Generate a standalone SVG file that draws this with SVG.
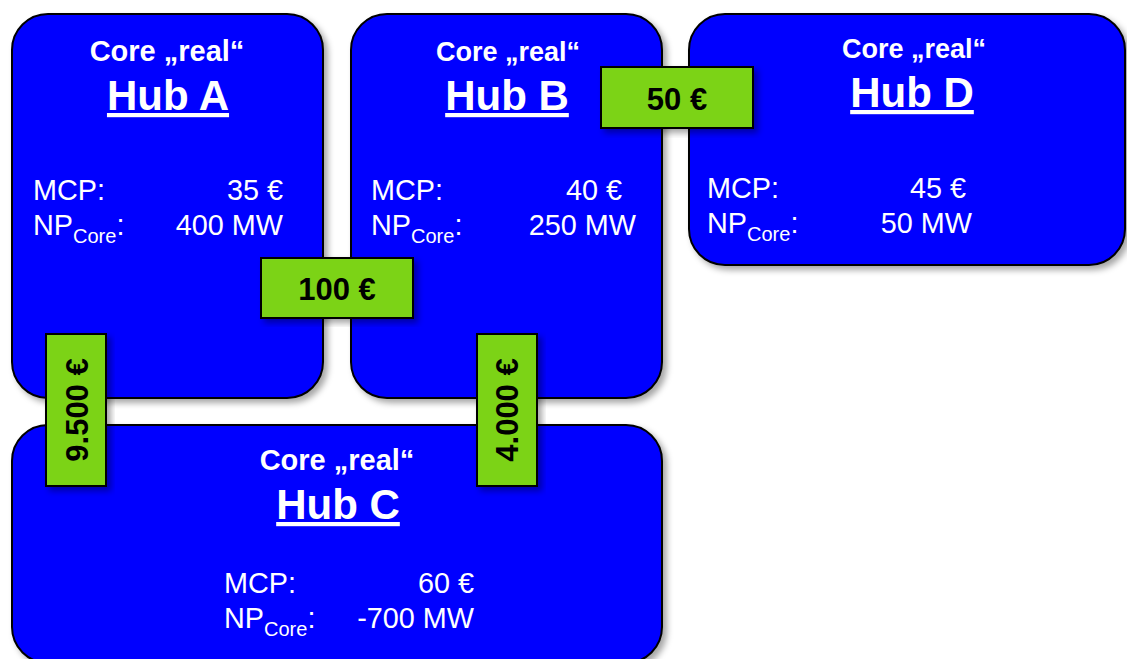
<svg xmlns="http://www.w3.org/2000/svg" width="1127" height="659" viewBox="0 0 1127 659">
<defs>
<filter id="sh" x="-10%" y="-10%" width="125%" height="125%">
<feDropShadow dx="4" dy="4" stdDeviation="3" flood-color="#000" flood-opacity="0.35"/>
</filter>
<style>
.hub{fill:#0000FF;stroke:#000;stroke-width:2;filter:url(#sh)}
.lbl{fill:#7CD313;stroke:#000;stroke-width:2;filter:url(#sh)}
.t{font-family:"Liberation Sans",Arial,sans-serif;fill:#fff}
.core{font-weight:bold;text-anchor:middle}
.title{font-weight:bold;font-size:42px;text-anchor:middle;text-decoration:underline}
.body{font-size:28.8px}
.r{text-anchor:end}
.sub{font-size:20px}
.lt{font-family:"Liberation Sans",Arial,sans-serif;font-weight:bold;font-size:31px;fill:#000;text-anchor:middle}
</style>
</defs>
<g id="hubA">
<rect class="hub" x="12" y="14" width="311" height="384" rx="36"/>
<text class="t core" x="167" y="61" font-size="29">Core „real“</text>
<text class="t title" x="168" y="110">Hub A</text>
<text class="t body" x="33" y="200">MCP:</text>
<text class="t body r" x="283" y="200">35 €</text>
<text class="t body" x="33" y="235">NP<tspan class="sub" dy="8">Core</tspan><tspan dy="-8">:</tspan></text>
<text class="t body r" x="283" y="235">400 MW</text>
</g>
<g id="hubB">
<rect class="hub" x="351" y="14" width="311" height="384" rx="36"/>
<text class="t core" x="508" y="61" font-size="27">Core „real“</text>
<text class="t title" x="507" y="110">Hub B</text>
<text class="t body" x="371" y="200">MCP:</text>
<text class="t body r" x="622" y="200">40 €</text>
<text class="t body" x="371" y="235">NP<tspan class="sub" dy="8">Core</tspan><tspan dy="-8">:</tspan></text>
<text class="t body r" x="636" y="235">250 MW</text>
</g>
<g id="hubD">
<rect class="hub" x="689" y="14" width="436" height="251" rx="36"/>
<text class="t core" x="914" y="58" font-size="27">Core „real“</text>
<text class="t title" x="912" y="107">Hub D</text>
<text class="t body" x="707" y="198">MCP:</text>
<text class="t body r" x="966" y="198">45 €</text>
<text class="t body" x="707" y="233">NP<tspan class="sub" dy="8">Core</tspan><tspan dy="-8">:</tspan></text>
<text class="t body r" x="972" y="233">50 MW</text>
</g>
<g id="hubC">
<rect class="hub" x="12" y="425" width="650" height="238" rx="36"/>
<text class="t core" x="337" y="470" font-size="29">Core „real“</text>
<text class="t title" x="338" y="519">Hub C</text>
<text class="t body" x="224" y="593">MCP:</text>
<text class="t body r" x="474" y="593">60 €</text>
<text class="t body" x="224" y="628">NP<tspan class="sub" dy="8">Core</tspan><tspan dy="-8">:</tspan></text>
<text class="t body r" x="474" y="628">-700 MW</text>
</g>
<g id="connectors">
<g id="lblBD">
<rect class="lbl" x="601" y="67" width="152" height="61"/>
<text class="lt" x="677" y="110">50 €</text>
</g>
<g id="lblAB">
<rect class="lbl" x="261" y="258" width="152" height="60"/>
<text class="lt" x="337" y="300">100 €</text>
</g>
<g id="lblAC">
<rect class="lbl" x="46" y="334" width="60" height="152"/>
<text class="lt" transform="translate(88,410) rotate(-90)">9.500 €</text>
</g>
<g id="lblBC">
<rect class="lbl" x="477" y="334" width="60" height="152"/>
<text class="lt" transform="translate(518,410) rotate(-90)">4.000 €</text>
</g>
</g>
</svg>
